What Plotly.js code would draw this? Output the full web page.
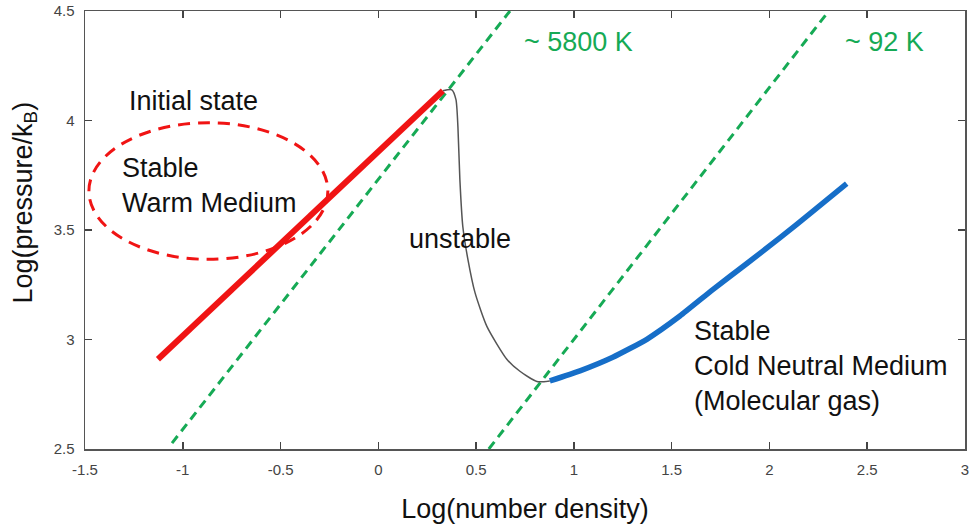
<!DOCTYPE html>
<html>
<head>
<meta charset="utf-8">
<script src="https://cdn.plot.ly/plotly-3.0.1.min.js"></script>
<style>html,body{margin:0;padding:0;background:#fff;}#chart{width:971px;height:524px;}</style>
</head>
<body>
<div id="chart"></div>
<script>
// Stable warm branch (red)
const warmX = [-1.127, 0.330];
const warmY = [2.91, 4.136];
// Unstable branch (thin grey)
const unstableX = [0.330, 0.376, 0.397, 0.407, 0.417, 0.432, 0.458, 0.494, 0.555, 0.657, 0.724, 0.811, 0.877];
const unstableY = [4.136, 4.140, 4.095, 3.971, 3.730, 3.516, 3.366, 3.215, 3.060, 2.910, 2.855, 2.808, 2.811];
// Stable cold branch (blue)
const coldX = [0.877, 1.031, 1.199, 1.373, 1.542, 1.712, 1.883, 2.053, 2.223, 2.395];
const coldY = [2.811, 2.857, 2.919, 3.001, 3.107, 3.229, 3.346, 3.464, 3.586, 3.712];
// Isotherms (green dashed)
const iso5800X = [-1.055, 0.673];
const iso5800Y = [2.527, 4.5];
const iso92X = [0.565, 2.299];
const iso92Y = [2.5, 4.495];
// Ellipse marking the initial state (data coordinates)
const ellipseX = [-1.480, -0.258];
const ellipseY = [3.366, 3.990];
// Tick values
const xTicks = [-1.5, -1, -0.5, 0, 0.5, 1, 1.5, 2, 2.5, 3];
const xTickText = ['-1.5', '-1', '-0.5', '0', '0.5', '1', '1.5', '2', '2.5', '3'];
const yTicks = [2.5, 3, 3.5, 4, 4.5];
const yTickText = ['2.5', '3', '3.5', '4', '4.5'];

const RED = 'rgb(240,20,20)';
const GREEN = 'rgb(22,170,85)';
const BLUE = 'rgb(22,110,200)';
const FONT = 'Liberation Sans, Arial, sans-serif';
const FS = 27;

const traces = [
  {x: iso5800X, y: iso5800Y, mode: 'lines', line: {color: GREEN, width: 3, dash: '9px,6px'}, hoverinfo: 'skip'},
  {x: iso92X, y: iso92Y, mode: 'lines', line: {color: GREEN, width: 3, dash: '9px,6px'}, hoverinfo: 'skip'},
  {x: unstableX, y: unstableY, mode: 'lines', line: {color: '#555', width: 1.5, shape: 'spline', smoothing: 0.6}},
  {x: warmX, y: warmY, mode: 'lines', line: {color: RED, width: 6}},
  {x: coldX, y: coldY, mode: 'lines', line: {color: BLUE, width: 5.5, shape: 'spline', smoothing: 0.5}}
];

const txt = (x, y, text, opts) => Object.assign({
  x: x, y: y, xref: 'x', yref: 'y', text: text, showarrow: false,
  font: {family: FONT, size: FS, color: '#111'}
}, opts || {});

const layout = {
  width: 971, height: 524,
  margin: {l: 85, r: 6, t: 11, b: 75},
  paper_bgcolor: '#fff', plot_bgcolor: '#fff',
  showlegend: false,
  xaxis: {
    range: [-1.5, 3], tickvals: xTicks, ticktext: xTickText,
    ticks: 'inside', ticklen: 7, tickcolor: '#444', tickwidth: 1.5,
    showline: true, linecolor: '#555', linewidth: 1.5, mirror: 'ticks',
    showgrid: false, zeroline: false,
    tickfont: {family: FONT, size: 15, color: '#444'},
    ticklabelstandoff: 6,
    title: {text: 'Log(number density)', font: {family: FONT, size: FS, color: '#111'}, standoff: 24}
  },
  yaxis: {
    range: [2.5, 4.5], tickvals: yTicks, ticktext: yTickText,
    ticks: 'inside', ticklen: 7, tickcolor: '#444', tickwidth: 1.5,
    showline: true, linecolor: '#555', linewidth: 1.5, mirror: 'ticks',
    showgrid: false, zeroline: false,
    tickfont: {family: FONT, size: 15, color: '#444'},
    ticklabelstandoff: 6
  },
  shapes: [{
    type: 'circle', xref: 'x', yref: 'y',
    x0: ellipseX[0], x1: ellipseX[1], y0: ellipseY[0], y1: ellipseY[1],
    line: {color: RED, width: 3, dash: '12px,8px'}
  }],
  annotations: [
    {xref: 'paper', yref: 'paper', x: -0.068, y: 0.563, xanchor: 'center', yanchor: 'middle',
     textangle: -90, showarrow: false, text: 'Log(pressure/k<sub>B</sub>)',
     font: {family: FONT, size: FS, color: '#111'}},
    txt(-0.943, 4.09, 'Initial state'),
    txt(-1.321, 3.703, 'Stable<br>Warm Medium', {xanchor: 'left', align: 'left'}),
    txt(0.417, 3.457, 'unstable'),
    txt(1.603, 2.878, 'Stable<br>Cold Neutral Medium<br>(Molecular gas)', {xanchor: 'left', align: 'left'}),
    txt(0.734, 4.359, '~ 5800 K', {xanchor: 'left', font: {family: FONT, size: FS, color: GREEN}}),
    txt(2.375, 4.359, '~ 92 K', {xanchor: 'left', font: {family: FONT, size: FS, color: GREEN}})
  ]
};

Plotly.newPlot('chart', traces, layout, {displayModeBar: false, staticPlot: true});
</script>
</body>
</html>
